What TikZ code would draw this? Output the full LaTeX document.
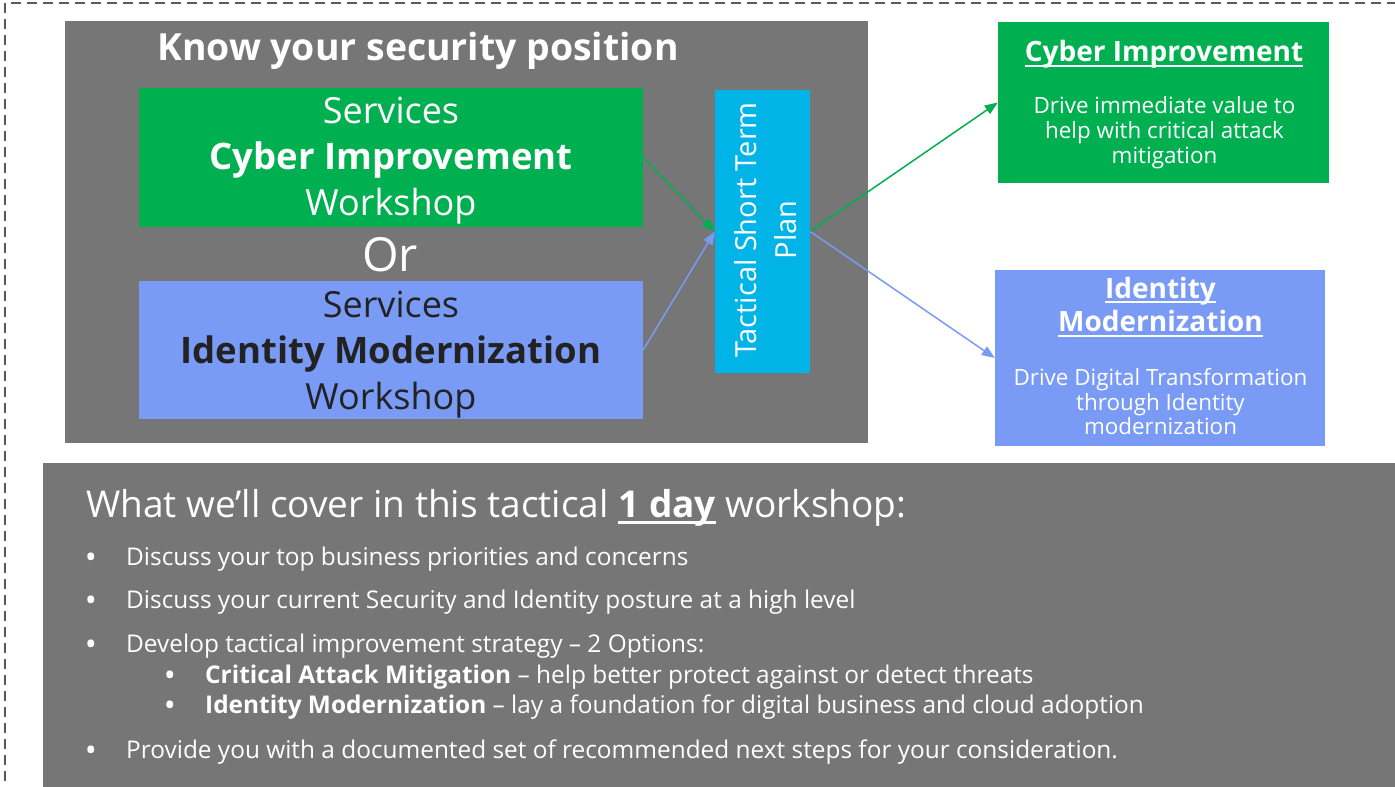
\documentclass[tikz,border=0pt]{standalone}
\usepackage{fontspec}
\setmainfont{Open Sans}
\usetikzlibrary{arrows.meta}

\definecolor{panelgray}{HTML}{767676}
\definecolor{cybergreen}{HTML}{00B050}
\definecolor{identblue}{HTML}{7A9BF5}
\definecolor{plancyan}{HTML}{00B4E8}
\definecolor{framegray}{HTML}{5A5A5A}
\definecolor{darktext}{HTML}{222222}

\newcommand{\fsize}[2]{\fontsize{#1}{#2}\selectfont}
\newcommand{\underlined}[1]{%
    \setbox0=\hbox{#1}\rlap{\rule[-0.18em]{\wd0}{0.07em}}\box0%
}
\newcommand{\coveritem}[4]{
    \node[bulletmark] (#1dot) at (#2-41.3,#3) {\textbullet};
    \node[itemtext] (#1) at (#2,#3) {#4};
}

\tikzset{
    panel/.style={fill=panelgray, inner sep=0pt},
    tile/.style={inner sep=0pt},
    boxtext/.style={align=center, inner sep=0pt, text=white},
    link/.style={line width=1.5pt, -{Triangle[length=13pt,width=10pt]}},
    itemtext/.style={anchor=base west, inner sep=0pt, text=white, font=\fsize{24.4}{29}},
    bulletmark/.style={itemtext, font=\fsize{32}{32}, yshift=-3.2pt},
}

\begin{document}
\begin{tikzpicture}[x=1pt, y=-1pt]
    \useasboundingbox (0,0) rectangle (1395,787);

    % dashed frame round everything
    \draw[framegray, line width=2.2pt, dash pattern=on 10pt off 6pt] (5,3) rectangle (1420,820);

    %% Know your security position
    \node[panel, minimum width=803pt, minimum height=422pt] (know) at (466.5,232) {};
    \node[boxtext, anchor=base west, font=\fsize{37.4}{44}\bfseries] (knowtitle) at (157,60) {Know your security position};

    % workshops
    \node[tile, fill=cybergreen, minimum width=504pt, minimum height=139pt] (cyberws) at (391,157.5) {};
    \node[boxtext, font=\fsize{36}{46}] (cyberwstext) at (391,161) {Services\\\textbf{\fsize{36.5}{46}Cyber Improvement}\\Workshop};
    \node[boxtext, font=\fsize{47}{50}] (or) at (390,255) {Or};
    \node[tile, fill=identblue, minimum width=504pt, minimum height=138pt] (identws) at (391,350) {};
    \node[boxtext, text=darktext, font=\fsize{36}{46}] (identwstext) at (391,354.5) {Services\\\textbf{\fsize{36.5}{46}Identity Modernization}\\Workshop};

    % plan
    \node[tile, fill=plancyan, minimum width=95pt, minimum height=283pt] (plan) at (762.5,231.5) {};
    \node[boxtext, rotate=90, font=\fsize{29}{40}] (plantext) at (766,230) {Tactical Short Term\\Plan};

    % outcomes
    \node[tile, fill=cybergreen, minimum width=331pt, minimum height=161pt] (cyberout) at (1163.5,102.5) {};
    \node[boxtext, anchor=base, font=\fsize{28}{33}\bfseries] (cyberouttitle) at (1164,61.7) {\underlined{Cyber Improvement}};
    \node[boxtext, font=\fsize{22.4}{25.3}] (cyberoutbody) at (1164.5,132.8) {Drive immediate value to\\help with critical attack\\mitigation};
    \node[tile, fill=identblue, minimum width=330pt, minimum height=176pt] (identout) at (1160,358) {};
    \node[boxtext, font=\fsize{28}{33.4}\bfseries] (identouttitle) at (1160.5,307) {\underlined{Identity}\\\underlined{Modernization}};
    \node[boxtext, font=\fsize{22.4}{24.5}] (identoutbody) at (1160.5,402) {Drive Digital Transformation\\through Identity\\modernization};

    % links
    \draw[link, cybergreen] (cyberws.east) -- (plan.west);
    \draw[link, identblue] (identws.east) -- (plan.west);
    \draw[link, cybergreen] (plan.east) -- (cyberout.west);
    \draw[link, identblue] (plan.east) -- (identout.west);

    %% What we'll cover
    \fill[panelgray] (43,463) rectangle (1420,820);
    \node[itemtext, font=\fsize{37}{44}] (coverhead) at (86,517) {What we’ll cover in this tactical \textbf{\underlined{1 day}} workshop:};
    \coveritem{priorities}{126}{565}{Discuss your top business priorities and concerns}
    \coveritem{posture}{126}{608}{Discuss your current Security and Identity posture at a high level}
    \coveritem{strategy}{126}{652}{Develop tactical improvement strategy – 2 Options:}
    \coveritem{attack}{205}{683}{\textbf{Critical Attack Mitigation} – help better protect against or detect threats}
    \coveritem{modern}{205}{713}{\textbf{Identity Modernization} – lay a foundation for digital business and cloud adoption}
    \coveritem{nextsteps}{126}{758}{Provide you with a documented set of recommended next steps for your consideration.}

\end{tikzpicture}
\end{document}
